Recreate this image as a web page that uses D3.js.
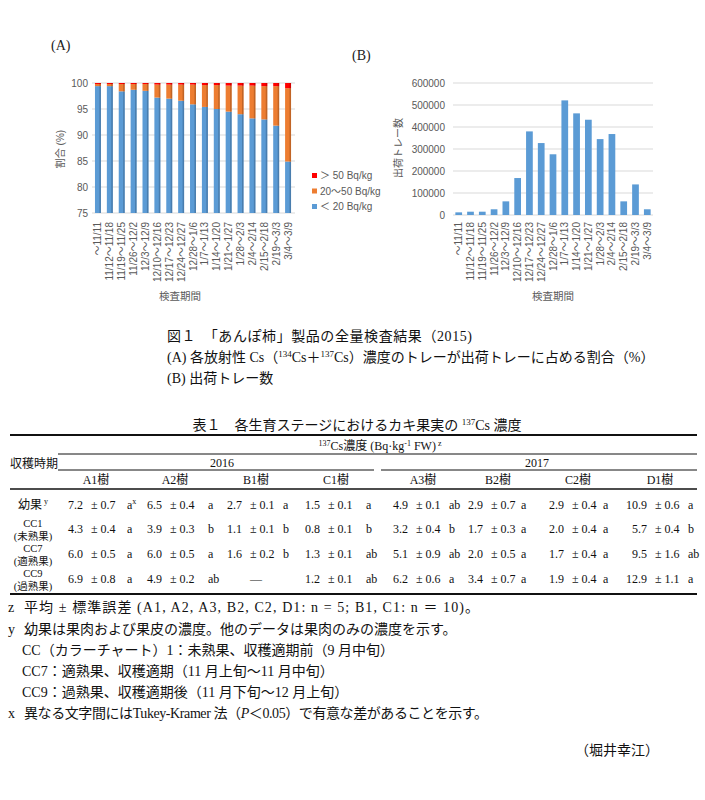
<!DOCTYPE html>
<html><head><meta charset="utf-8">
<script src="https://cdn.jsdelivr.net/npm/d3@7"></script>
<style>
body{margin:0;background:#fff;}
svg{display:block;}
</style></head>
<body>
<svg id="fig" width="705" height="800"></svg>
<script>
// ---------- DATA ----------
const periods = ["～11/11","11/12～11/18","11/19～11/25","11/26～12/2","12/3～12/9","12/10～12/16","12/17～12/23","12/24～12/27","12/28～1/6","1/7～1/13","1/14～1/20","1/21～1/27","1/28～2/3","2/4～2/14","2/15～2/18","2/19～3/3","3/4～3/9"];
const below20 = [99.4,99.4,98.4,98.7,98.5,97.2,97.0,96.6,95.9,95.4,95.0,94.5,94.0,93.2,93.0,91.8,84.9];
const over50  = [0.2,0.2,0.2,0.2,0.2,0.3,0.3,0.3,0.3,0.4,0.4,0.5,0.5,0.5,0.6,0.6,1.0];
const from20to50 = below20.map((v,i)=> +(100 - v - over50[i]).toFixed(1));
const trays = [12000,15000,15000,26000,62000,168000,380000,327000,276000,521000,462000,433000,345000,368000,62000,139000,26000];
const ticksA = [75,80,85,90,95,100];
const ticksB = [0,100000,200000,300000,400000,500000,600000];
const legendA = [{label:"＞ 50 Bq/kg",key:"over50"},{label:"20～50 Bq/kg",key:"mid"},{label:"＜ 20 Bq/kg",key:"low"}];

const trees = ["A1樹","A2樹","B1樹","C1樹","A3樹","B2樹","C2樹","D1樹"];
const years = ["2016","2017"];
const stages = [["幼果"],["CC1","(未熟果)"],["CC7","(適熟果)"],["CC9","(過熟果)"]];
const means = [
  [7.2,6.5,2.7,1.5,4.9,2.9,2.9,10.9],
  [4.3,3.9,1.1,0.8,3.2,1.7,2.0,5.7],
  [6.0,6.0,1.6,1.3,5.1,2.0,1.7,9.5],
  [6.9,4.9,null,1.2,6.2,3.4,1.9,12.9]];
const ses = [
  [0.7,0.4,0.1,0.1,0.1,0.7,0.4,0.6],
  [0.4,0.3,0.1,0.1,0.4,0.3,0.4,0.4],
  [0.5,0.5,0.2,0.1,0.9,0.5,0.4,1.6],
  [0.8,0.2,null,0.1,0.6,0.7,0.4,1.1]];
const letters = [
  ["a","a","a","a","ab","a","a","a"],
  ["a","b","b","b","b","a","a","b"],
  ["a","a","b","ab","ab","a","a","ab"],
  ["a","ab","","ab","a","a","a","a"]];

const footnotes = [
  ["z","平均 ± 標準誤差 (A1, A2, A3, B2, C2, D1: n = 5; B1, C1: n ＝ 10)。"],
  ["y","幼果は果肉および果皮の濃度。他のデータは果肉のみの濃度を示す。"],
  ["","CC（カラーチャート）1：未熟果、収穫適期前（9 月中旬）"],
  ["","CC7：適熟果、収穫適期（11 月上旬～11 月中旬）"],
  ["","CC9：過熟果、収穫適期後（11 月下旬～12 月上旬）"],
  ["x","異なる文字間にはTukey-Kramer 法（P＜0.05）で有意な差があることを示す。"]];
const author = "（堀井幸江）";

// ---------- STYLE ----------
const SANS = "'Liberation Sans','Noto Sans CJK JP',sans-serif";
const SERIF = "'Liberation Serif','Noto Sans CJK JP',serif";
const AXC = "#595959", GRID = "#d9d9d9";
const BLUE = "#5b9bd5", ORANGE = "#ed7d31", RED = "#ff0000";

const svg = d3.select("#fig");
svg.append("rect").attr("width",705).attr("height",800).attr("fill","#fff");

// ---------- CHART A ----------
const gA = svg.append("g");
const xA = d3.scaleBand().domain(periods).range([92,294]).paddingInner(0.5).paddingOuter(0.25);
const yA = d3.scaleLinear().domain([75,100]).range([213,83]);

gA.append("g").selectAll("line").data(ticksA).join("line")
  .attr("x1",92).attr("x2",295).attr("y1",d=>yA(d)).attr("y2",d=>yA(d))
  .attr("stroke",GRID).attr("stroke-width",1);
const yAxisA = gA.append("g").attr("transform","translate(92,0)")
  .call(d3.axisLeft(yA).tickValues(ticksA).tickSize(0).tickPadding(4));
yAxisA.select(".domain").remove();
yAxisA.selectAll("text").attr("fill",AXC).attr("font-size",10).attr("font-family",SANS);

const stackA = periods.map((p,i)=>({p, low:below20[i], mid:from20to50[i], over50:over50[i]}));
const layers = [{key:"low",c:BLUE,d:"#41719c"},{key:"mid",c:ORANGE,d:"#ae5a21"},{key:"over50",c:RED,d:"#c00000"}];
const stacked = d3.stack().keys(["low","mid","over50"])(stackA);
stacked.forEach((layer,li)=>{
  const g = gA.append("g");
  g.selectAll("rect.m").data(layer).join("rect").attr("class","m")
    .attr("x",d=>xA(d.data.p)).attr("width",xA.bandwidth())
    .attr("y",d=>yA(Math.min(d[1],100))).attr("height",d=>Math.max(0,yA(Math.max(d[0],75))-yA(Math.min(d[1],100))))
    .attr("fill",layers[li].c);
  g.selectAll("rect.s").data(layer).join("rect").attr("class","s")
    .attr("x",d=>xA(d.data.p)+xA.bandwidth()-1.5).attr("width",1.5)
    .attr("y",d=>yA(Math.min(d[1],100))).attr("height",d=>Math.max(0,yA(Math.max(d[0],75))-yA(Math.min(d[1],100))))
    .attr("fill",layers[li].d).attr("opacity",0.7);
});

const xAxisA = gA.append("g").attr("transform","translate(0,214)")
  .call(d3.axisBottom(xA).tickSize(0).tickPadding(0));
xAxisA.select(".domain").remove();
xAxisA.selectAll("text").attr("fill",AXC).attr("font-size",10).attr("font-family",SANS)
  .attr("text-anchor","end").attr("transform","translate(0,8) rotate(-90)").attr("dy","0.35em").attr("x",0).attr("y",0);

gA.append("text").attr("transform","translate(64,149) rotate(-90)").attr("text-anchor","middle")
  .attr("font-family",SANS).attr("font-size",10).attr("fill",AXC).text("割合 (%)");
gA.append("text").attr("x",180).attr("y",300).attr("text-anchor","middle")
  .attr("font-family",SANS).attr("font-size",10.5).attr("fill",AXC).text("検査期間");

const colorByKey = {over50:RED, mid:ORANGE, low:BLUE};
const lg = gA.append("g");
lg.selectAll("rect").data(legendA).join("rect")
  .attr("x",312).attr("y",(d,i)=>173+i*15.5).attr("width",5).attr("height",5).attr("fill",d=>colorByKey[d.key]);
lg.selectAll("text").data(legendA).join("text")
  .attr("x",320).attr("y",(d,i)=>175.5+i*15.5).attr("dy","0.35em")
  .attr("font-family",SANS).attr("font-size",10).attr("fill",AXC).text(d=>d.label);

svg.append("text").attr("x",51).attr("y",50).attr("font-family",SERIF).attr("font-size",14).attr("fill","#222").text("(A)");
svg.append("text").attr("x",352).attr("y",60).attr("font-family",SERIF).attr("font-size",14).attr("fill","#222").text("(B)");

// ---------- CHART B ----------
const gB = svg.append("g");
const xB = d3.scaleBand().domain(periods).range([453,653]).paddingInner(0.43).paddingOuter(0.2);
const yB = d3.scaleLinear().domain([0,600000]).range([215,83]);
gB.append("g").selectAll("line").data(ticksB).join("line")
  .attr("x1",453).attr("x2",653).attr("y1",d=>yB(d)).attr("y2",d=>yB(d))
  .attr("stroke",GRID).attr("stroke-width",1);
const yAxisB = gB.append("g").attr("transform","translate(451,0)")
  .call(d3.axisLeft(yB).tickValues(ticksB).tickSize(0).tickPadding(6).tickFormat(d3.format("d")));
yAxisB.select(".domain").remove();
yAxisB.selectAll("text").attr("fill",AXC).attr("font-size",10).attr("font-family",SANS);
gB.append("g").selectAll("rect").data(trays).join("rect")
  .attr("x",(d,i)=>xB(periods[i])).attr("width",xB.bandwidth())
  .attr("y",d=>yB(d)).attr("height",d=>yB(0)-yB(d)).attr("fill",BLUE);
const xAxisB = gB.append("g").attr("transform","translate(0,215)")
  .call(d3.axisBottom(xB).tickSize(0).tickPadding(0));
xAxisB.select(".domain").remove();
xAxisB.selectAll("text").attr("fill",AXC).attr("font-size",10).attr("font-family",SANS)
  .attr("text-anchor","end").attr("transform","translate(0,7) rotate(-90)").attr("dy","0.35em").attr("x",0).attr("y",0);
gB.append("text").attr("transform","translate(402,148) rotate(-90)").attr("text-anchor","middle")
  .attr("font-family",SANS).attr("font-size",10).attr("fill",AXC).text("出荷トレー数");
gB.append("text").attr("x",553).attr("y",300).attr("text-anchor","middle")
  .attr("font-family",SANS).attr("font-size",10.5).attr("fill",AXC).text("検査期間");

// ---------- FIGURE CAPTION ----------
const cap = svg.append("g").attr("font-family",SERIF).attr("font-size",14).attr("fill","#111");
cap.append("text").attr("x",167).attr("y",341).attr("textLength",305).attr("lengthAdjust","spacing").text("図１　「あんぽ柿」製品の全量検査結果（2015)");
const c2 = cap.append("text").attr("x",167).attr("y",362);
c2.append("tspan").text("(A) 各放射性 Cs（");
c2.append("tspan").attr("font-size",9).attr("dy",-5).text("134");
c2.append("tspan").attr("dy",5).text("Cs＋");
c2.append("tspan").attr("font-size",9).attr("dy",-5).text("137");
c2.append("tspan").attr("dy",5).text("Cs）濃度のトレーが出荷トレーに占める割合（%）");
cap.append("text").attr("x",167).attr("y",383).text("(B) 出荷トレー数");

// ---------- TABLE ----------
const tb = svg.append("g").attr("font-family",SERIF).attr("fill","#111");
const tt = tb.append("text").attr("x",357).attr("y",430).attr("text-anchor","middle").attr("font-size",14);
tt.append("tspan").text("表１　各生育ステージにおけるカキ果実の ");
tt.append("tspan").attr("font-size",9).attr("dy",-5).text("137");
tt.append("tspan").attr("dy",5).text("Cs 濃度");

const hl = (x1,x2,y,w)=>tb.append("line").attr("x1",x1).attr("x2",x2).attr("y1",y).attr("y2",y).attr("stroke","#111").attr("stroke-width",w);
hl(10,697,435,2);
hl(58,697,454,1);
hl(58,374,470,1);
hl(381,697,470,1);
hl(10,697,489,1.3);
hl(10,697,594,2);

const hd = tb.append("text").attr("x",380).attr("y",450).attr("text-anchor","middle").attr("font-size",12);
hd.append("tspan").attr("font-size",8).attr("dy",-4).text("137");
hd.append("tspan").attr("dy",4).text("Cs濃度 (Bq·kg");
hd.append("tspan").attr("font-size",8).attr("dy",-4).text("-1");
hd.append("tspan").attr("dy",4).text(" FW)");
hd.append("tspan").attr("font-size",8).attr("dy",-4).text(" z");

tb.append("text").attr("x",10).attr("y",468).attr("font-size",12).text("収穫時期");
const yearX = [222,537];
tb.selectAll("text.yr").data(years).join("text").attr("class","yr")
  .attr("x",(d,i)=>yearX[i]).attr("y",467).attr("text-anchor","middle").attr("font-size",12).text(d=>d);

const headX = [96,175,256,336,423,498,578,660];
tb.selectAll("text.tr").data(trees).join("text").attr("class","tr")
  .attr("x",(d,i)=>headX[i]).attr("y",484).attr("text-anchor","middle").attr("font-size",12).text(d=>d);

// cell anchors
const meanRight = [83,162,242,320,408,483,564,647];
const pmStart   = [91,170,250,328,416,491,572,655];
const letterX   = [127,208,283,366,449,521,603,688];
const rowY = [509,533,558,583];
const rowLabelY = [[509],[527,539.5],[552,564.5],[577,589.5]];

stages.forEach((lab,r)=>{
  lab.forEach((t,k)=>{
    const el = tb.append("text").attr("x",33).attr("y",rowLabelY[r][k]).attr("text-anchor","middle")
      .attr("font-size",r===0?12:10.5).text(t);
    if(r===0){ el.append("tspan").attr("font-size",8).attr("dy",-5).text(" y"); }
  });
  means[r].forEach((m,c)=>{
    if(m===null){
      tb.append("text").attr("x",headX[c]).attr("y",rowY[r]).attr("text-anchor","middle").attr("font-size",12).text("—");
      return;
    }
    tb.append("text").attr("x",meanRight[c]).attr("y",rowY[r]).attr("text-anchor","end").attr("font-size",12).text(m.toFixed(1));
    tb.append("text").attr("x",pmStart[c]).attr("y",rowY[r]).attr("font-size",12).text("± "+ses[r][c].toFixed(1));
    const lt = tb.append("text").attr("x",letterX[c]).attr("y",rowY[r]).attr("font-size",12).text(letters[r][c]);
    if(r===0 && c===0){ lt.append("tspan").attr("font-size",8).attr("dy",-5).text("x"); }
  });
});

// ---------- FOOTNOTES ----------
const fn = svg.append("g").attr("font-family",SERIF).attr("font-size",14).attr("fill","#111");
const fnY = [612,634,655,676,697,718];
const fnLen = [455,null,null,null,null,464];
footnotes.forEach((f,i)=>{
  if(f[0]) fn.append("text").attr("x",8).attr("y",fnY[i]).text(f[0]);
  const t = fn.append("text").attr("x",f[0]?24:22).attr("y",fnY[i]);
  if(fnLen[i]) t.attr("textLength",fnLen[i]).attr("lengthAdjust","spacing");
  if(i===5){
    t.append("tspan").text("異なる文字間にはTukey-Kramer 法（");
    t.append("tspan").attr("font-style","italic").text("P");
    t.append("tspan").text("＜0.05）で有意な差があることを示す。");
  } else t.text(f[1]);
});
fn.append("text").attr("x",575).attr("y",755).text(author);
</script>
</body></html>
